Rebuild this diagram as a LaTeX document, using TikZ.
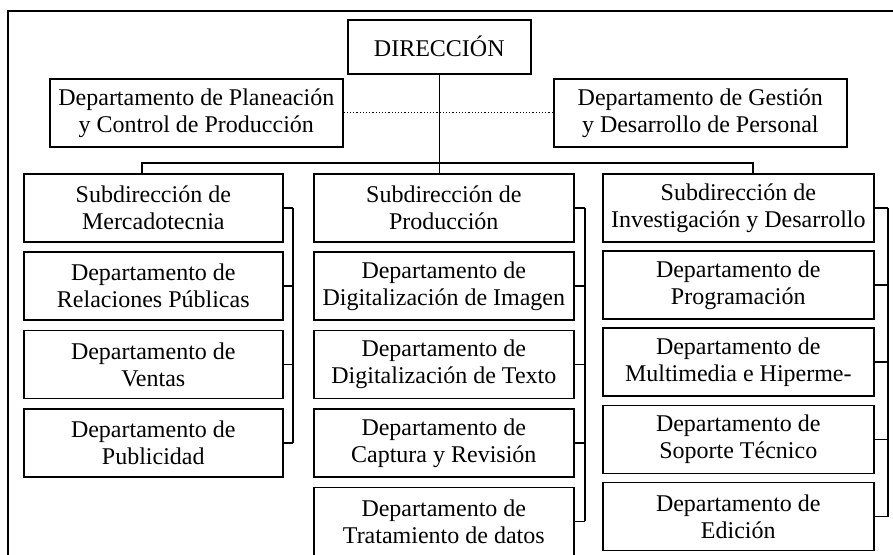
\documentclass[tikz,border=0pt]{standalone}
\usepackage{fontspec}
\setmainfont{Liberation Serif}
\usepackage{tikz}
\usetikzlibrary{positioning}
\tikzset{
    framenode/.style = {draw, rectangle, inner sep = 0em, line width=0.8pt, 
      font=\fontsize{12}{13.5}\selectfont},
    boxnode/.style = {framenode, minimum height=34pt, anchor=north west},
    leftnode/.style = {boxnode, minimum width=129.5pt},
    midnode/.style = {boxnode, minimum width=130pt},
    rightnode/.style = {boxnode, minimum width=135.5pt},
    connect/.style = {black, line width=0.8pt},
    dotline/.style = {black, densely dotted, line width=0.6pt},
    every text node part/.style={align=center}
}

\begin{document}
\begin{tikzpicture}[x=0.5pt, y=-0.5pt]
    \clip (0,0) rectangle (893,554);
    \draw [connect] (905,11) -- (8,11) -- (8,570);

    \node [name=dir, framenode, minimum width=91.5pt, minimum height=27pt, 
        anchor=north west] at (347,19) {DIRECCIÓN};
    \node [name=pla, boxnode, minimum width=146.5pt] at (49,78) 
        {Departamento de Planeación\\y Control de Producción};
    \node [name=ges, boxnode, minimum width=146.5pt] at (553,78) 
        {Departamento de Gestión\\y Desarrollo de Personal};
    \draw [dotline] (pla) -- (ges);

    \node [name=mer, leftnode] at (23,173) {Subdirección de\\Mercadotecnia};
    \node [name=rel, leftnode, below=4.4pt of mer] {Departamento de\\Relaciones Públicas};
    \node [name=ven, leftnode, below=4.4pt of rel] {Departamento de\\Ventas};
    \node [name=pub, leftnode, below=4.4pt of ven] {Departamento de\\Publicidad};

    \node [name=pro, midnode] at (313,173) {Subdirección de\\Producción};
    \node [name=img, midnode, below=4.4pt of pro] {Departamento de\\Digitalización de Imagen};
    \node [name=txt, midnode, below=4.4pt of img] {Departamento de\\Digitalización de Texto};
    \node [name=cap, midnode, below=4.4pt of txt] {Departamento de\\Captura y Revisión};
    \node [name=dat, midnode, below=4.4pt of cap] {Departamento de\\Tratamiento de datos};

    \node [name=inv, rightnode] at (602,173) {Subdirección de\\Investigación y Desarrollo};
    \node [name=prg, rightnode, below=3.8pt of inv] {Departamento de\\Programación};
    \node [name=mul, rightnode, below=3.8pt of prg] {Departamento de\\Multimedia e Hiperme-};
    \node [name=sop, rightnode, below=3.8pt of mul] {Departamento de\\Soporte Técnico};
    \node [name=edi, rightnode, below=3.8pt of sop] {Departamento de\\Edición};

    \coordinate (busA) at (142,163);
    \coordinate (busB) at (753,163);
    \coordinate (brL) at (293,0);
    \coordinate (brM) at (585,0);
    \coordinate (brR) at (888,0);

    \draw [connect] (dir.south) -- (dir.south |- pro.north);
    \draw [connect] (busA |- mer.north) -- (busA) -- (busB) -- (busB |- inv.north);

    \foreach \n in {mer, rel, ven, pub}
        \draw [connect] (\n.east) -- (\n.east -| brL);
    \draw [connect] (mer.east -| brL) -- (pub.east -| brL);

    \foreach \n in {pro, img, txt, cap, dat}
        \draw [connect] (\n.east) -- (\n.east -| brM);
    \draw [connect] (pro.east -| brM) -- (dat.east -| brM);

    \foreach \n in {inv, prg, mul, sop, edi}
        \draw [connect] (\n.east) -- (\n.east -| brR);
    \draw [connect] (inv.east -| brR) -- (edi.east -| brR);
\end{tikzpicture}
\end{document}
